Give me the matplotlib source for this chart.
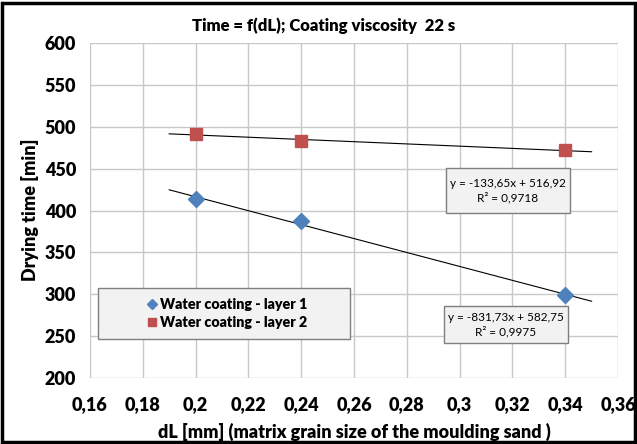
import numpy as np
import matplotlib.pyplot as plt
from matplotlib.patches import Rectangle

plt.rcParams['font.family'] = ['Lato', 'DejaVu Sans']
plt.rcParams['font.weight'] = 'heavy'

# measured points
dl = [0.2, 0.24, 0.34]
layer1 = [414, 387, 299]
layer2 = [491, 483, 472]
# trend line coefficients (as printed on the chart)
fit1 = [-831.73, 582.75]
fit2 = [-133.65, 516.92]
trend_x = [0.19, 0.35]
xticks = [0.16, 0.18, 0.2, 0.22, 0.24, 0.26, 0.28, 0.3, 0.32, 0.34, 0.36]
xticklabels = ['0,16', '0,18', '0,2', '0,22', '0,24', '0,26', '0,28', '0,3', '0,32', '0,34', '0,36']
yticks = [200, 250, 300, 350, 400, 450, 500, 550, 600]

W, H = 637, 444
fig = plt.figure(figsize=(W / 100, H / 100), dpi=100)
ax = fig.add_axes([90 / W, 1 - 378 / H, 528 / W, 335 / H])

def ax_box(x0, y0, x1, y1):
    # pixel box -> axes coords
    return ((x0 - 90) / 528, (378 - y1) / 335, (x1 - x0) / 528, (y1 - y0) / 335)

tx = np.array(trend_x)
ax.plot(tx, np.polyval(fit1, tx), color='black', lw=0.8, zorder=2)
ax.plot(tx, np.polyval(fit2, tx), color='black', lw=0.8, zorder=2)
ax.plot(dl, layer1, 'D', color='#4f81bd', ms=8, label='Water coating - layer 1', zorder=3)
ax.plot(dl, layer2, 's', color='#c0504d', ms=8.5, label='Water coating - layer 2', zorder=3)

ax.set_xlim(0.16, 0.36)
ax.set_ylim(200, 600)
ax.set_xticks(xticks)
ax.set_xticklabels(xticklabels)
ax.set_yticks(yticks)
ax.grid(True, color='#c8c8c8', lw=1)
ax.set_axisbelow(True)
for s in ax.spines.values():
    s.set_visible(False)
ax.tick_params(axis='x', length=0, pad=13, labelsize=13)
ax.tick_params(axis='y', length=0, pad=10, labelsize=13)

fig.text(354 / W, 1 - 432 / H, 'dL [mm] (matrix grain size of the moulding sand )', ha='center', va='center',
         fontsize=13)
fig.text(30 / W, 1 - 210 / H, 'Drying time [min]', ha='center', va='center', rotation=90, fontsize=13)
fig.text(324 / W, 1 - 26 / H, 'Time = f(dL); Coating viscosity  22 s', ha='center', va='center',
         fontsize=12)

# legend with its own wide frame
x0, y0, w, h = ax_box(98, 288, 350, 339)
ax.add_patch(Rectangle((x0, y0), w, h, transform=ax.transAxes, fc='#f2f2f2', ec='#7f7f7f', lw=1, zorder=4))
leg = ax.legend(loc='center', bbox_to_anchor=(x0 + w / 2 + 0.005, y0 + h / 2), frameon=False,
                prop={'size': 10.3, 'weight': 'heavy'}, handletextpad=0.2, handlelength=0.8,
                markerscale=0.65, labelspacing=0.4, borderpad=0)
leg.set_zorder(5)

# equation boxes
eqs = ['y = -133,65x + 516,92\nR² = 0,9718', 'y = -831,73x + 582,75\nR² = 0,9975']
boxes = [(446, 168, 570, 213), (444, 306, 568, 343)]
for txt, b in zip(eqs, boxes):
    x0, y0, w, h = ax_box(*b)
    ax.add_patch(Rectangle((x0, y0), w, h, transform=ax.transAxes, fc='#f2f2f2', ec='#7f7f7f', lw=1, zorder=4))
    ax.text(x0 + w / 2, y0 + h / 2, txt, transform=ax.transAxes, ha='center', va='center',
            fontsize=8.5, fontweight='normal', linespacing=1.35, zorder=5)

fig.patches.append(Rectangle((0.003, 0.004), 0.994, 0.99, transform=fig.transFigure,
                             fill=False, ec='black', lw=2.5))

fig.savefig('out.png', dpi=100)
